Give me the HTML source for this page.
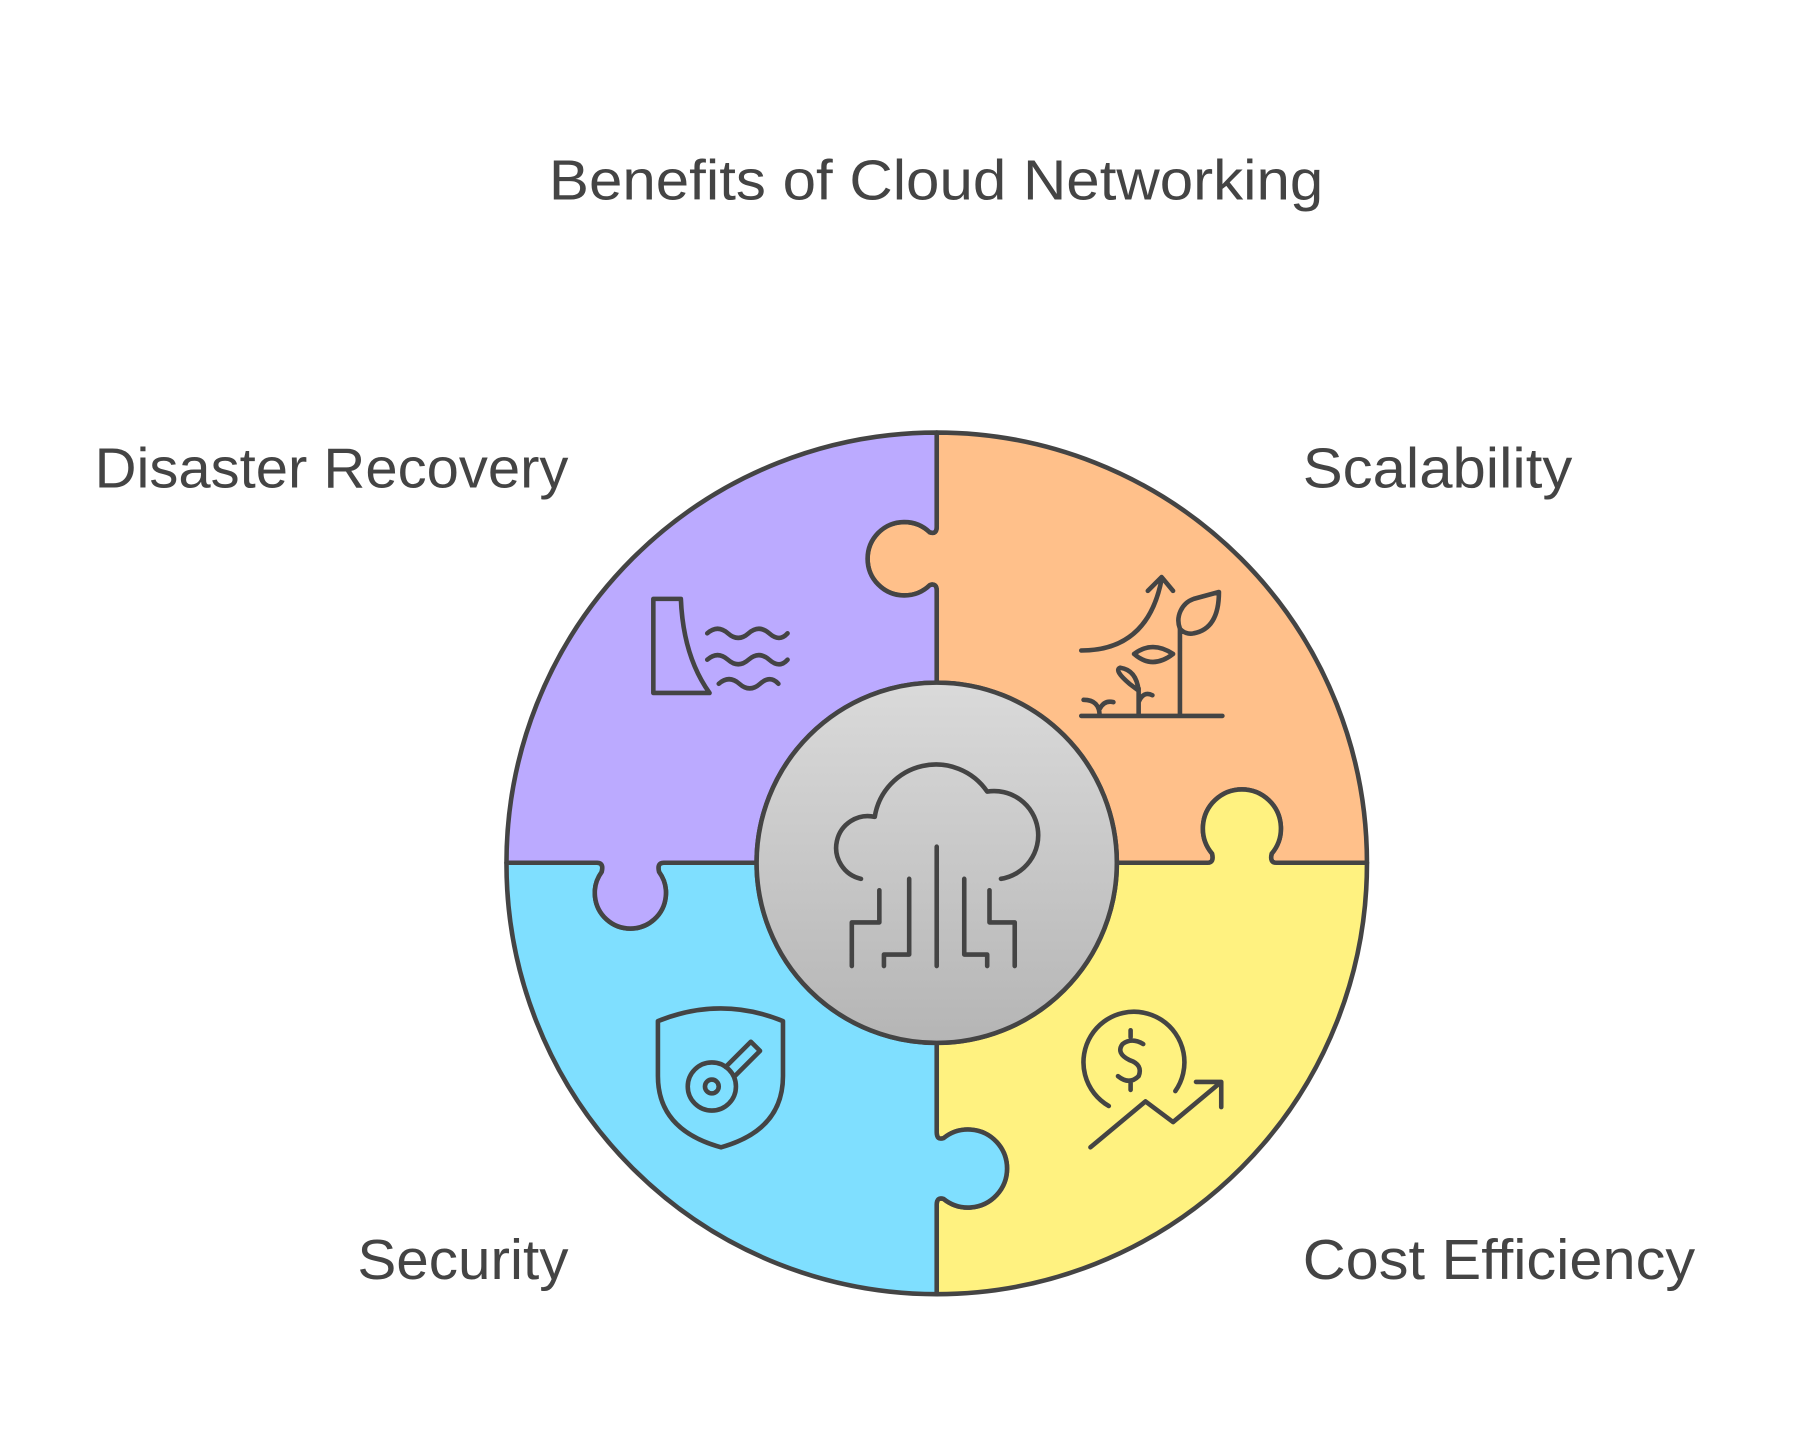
<!DOCTYPE html>
<html><head><meta charset="utf-8"><style>
html,body{margin:0;padding:0;background:#fff;}
svg{display:block;}
text{font-family:"Liberation Sans",sans-serif;fill:#444;font-size:49px;}
</style></head><body>
<svg width="1800" height="1441" viewBox="0 0 1568 1256" xmlns="http://www.w3.org/2000/svg">
<defs><linearGradient id="g" x1="0" y1="0" x2="0" y2="1"><stop offset="0" stop-color="#dadada"/><stop offset="1" stop-color="#b5b5b5"/></linearGradient></defs>
<text x="478" y="174" textLength="675" lengthAdjust="spacingAndGlyphs">Benefits of Cloud Networking</text>
<text x="82" y="425" textLength="413" lengthAdjust="spacingAndGlyphs">Disaster Recovery</text>
<text x="1135" y="425" textLength="235" lengthAdjust="spacingAndGlyphs">Scalability</text>
<text x="311" y="1115" textLength="184" lengthAdjust="spacingAndGlyphs">Security</text>
<text x="1135" y="1115" textLength="342" lengthAdjust="spacingAndGlyphs">Cost Efficiency</text>
<g stroke="#444" stroke-width="4" stroke-linejoin="round">
<path fill="#ffc08a" d="M816,377 A375,375 0 0 1 1191,752 L1112,752 Q1106,752 1108,744 A34,34 0 1 0 1056,744 Q1058,752 1052,752 L973,752 A157,157 0 0 0 816,595 L816,515 Q816,508 810,510 A32,32 0 1 1 810,464 Q816,466 816,459 Z"/>
<path fill="#fff280" d="M1191,752 A375,375 0 0 1 816,1128 L816,1050 Q816,1043 822,1045 A34,34 0 1 0 822,992 Q816,994 816,987 L816,909 A157,157 0 0 0 973,752 L1052,752 Q1058,752 1056,744 A34,34 0 1 1 1108,744 Q1106,752 1112,752 Z"/>
<path fill="#7fdfff" d="M816,1128 A375,375 0 0 1 441,752 L520,752 Q526,752 524,760 A31,31 0 1 0 574,760 Q572,752 578,752 L659,752 A157,157 0 0 0 816,909 L816,987 Q816,994 822,992 A34,34 0 1 1 822,1045 Q816,1043 816,1050 Z"/>
<path fill="#bbaaff" d="M441,752 A375,375 0 0 1 816,377 L816,459 Q816,466 810,464 A32,32 0 1 0 810,510 Q816,508 816,515 L816,595 A157,157 0 0 0 659,752 L578,752 Q572,752 574,760 A31,31 0 1 1 524,760 Q526,752 520,752 Z"/>
<circle cx="816" cy="752" r="157" fill="url(#g)"/>
</g>
<g fill="none" stroke="#444" stroke-width="4" stroke-linecap="round" stroke-linejoin="round">
<path d="M750,766 A24,24 0 0 1 762,712 A54,54 0 0 1 860,690 A36,36 0 0 1 872,766"/>
<path d="M816,738 V842 M792,766 V832 H770 V842 M766,776 V804 H742 V842 M840,766 V832 H860 V842 M862,776 V804 H884 V842"/>
<path d="M569,522 H593 Q595,572 618,604 H569 Z"/>
<path d="M616,552 q9,-8 18,0 t18,0 t18,0 t16,0 M616,575 q9,-8 18,0 t18,0 t18,0 t16,0 M626,596 q9,-8 18,0 t18,0 t16,0"/>
<path d="M942,624 H1065 M1028,624 V548 M1028,548 A20,20 0 0 1 1040,522 L1062,516 Q1062,548 1040,552 A12,12 0 0 1 1028,548 M1028,562 V570 M1022,570 Q1004,558 988,570 Q1004,584 1022,570 M992,624 V600 M992,602 L984,596 Q970,584 976,582 Q990,584 992,602 M992,612 Q996,602 1004,606 M958,624 Q958,610 944,610 M958,618 Q962,610 970,612"/>
<path d="M942,567 Q1000,567 1012,505 M1000,515 L1012,503 L1022,515"/>
<path d="M573,890 Q628,868 682,890 V938 Q682,985 628,1000 Q573,985 573,938 Z"/>
<circle cx="620" cy="947" r="21"/><circle cx="620" cy="947" r="6"/>
<path d="M632,930 L654,908 L662,916 L640,938"/>
<path d="M966,964 A44,44 0 1 1 1024,951"/>
<path d="M996,910 Q986,904 978,910 Q972,918 984,924 Q996,928 992,938 Q984,946 974,938 M985,904 V898 M985,944 V950"/>
<path d="M950,1000 L998,960 L1022,978 L1064,943 M1042,943 H1064 V965"/>
</g>
</svg>
</body></html>
